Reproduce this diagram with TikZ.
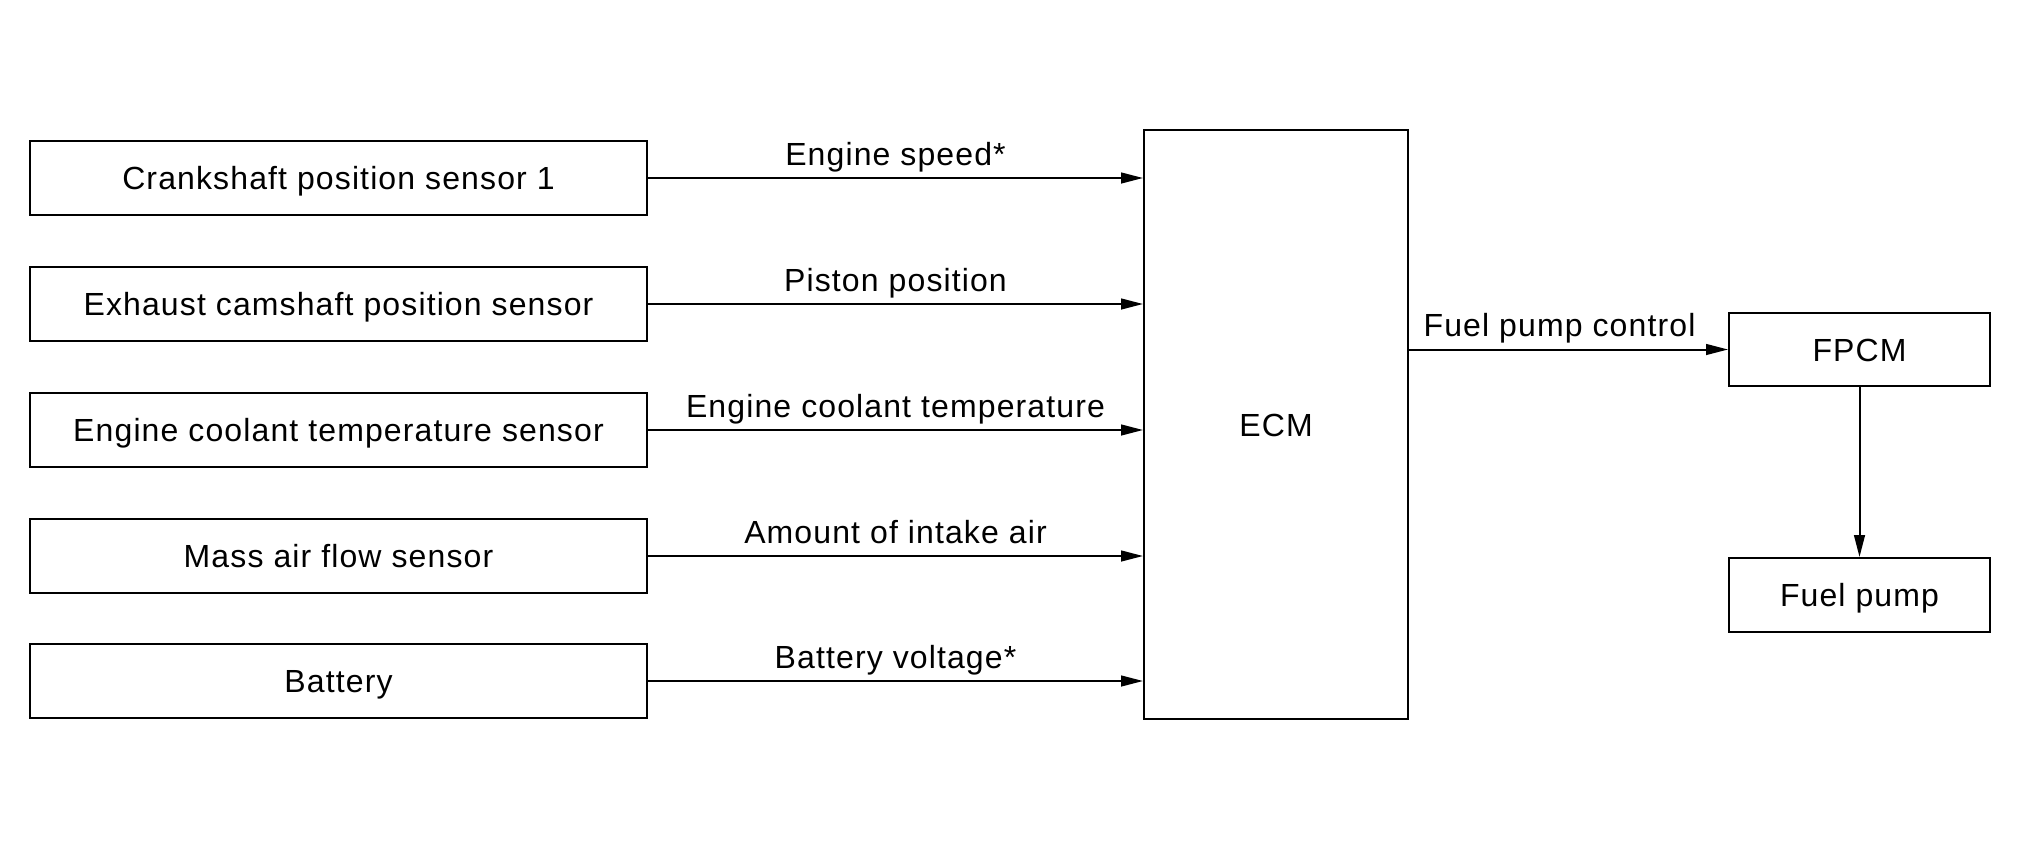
\documentclass[tikz,border=0pt]{standalone}
\usepackage{fontspec}
\setmainfont[LetterSpace=3.5]{Liberation Sans}
\usetikzlibrary{arrows.meta}
\begin{document}
\begin{tikzpicture}[x=0.5pt,y=-0.5pt,
  txt/.style={font=\fontsize{16}{19}\selectfont},
  box/.style={draw, line width=1pt, inner sep=0pt, txt, text height=11.5pt, text depth=0pt},
  sensor/.style={box, minimum width=308.5pt, minimum height=37pt},
  arr/.style={line width=1pt, -{Triangle[length=11pt,width=5.4pt]}},
  lbl/.style={txt, anchor=base, inner sep=0pt}]
\useasboundingbox (0,0) rectangle (2020,851);
\node[sensor] (s1) at (338.5,178) {Crankshaft position sensor 1};
\node[sensor] (s2) at (338.5,304) {Exhaust camshaft position sensor};
\node[sensor] (s3) at (338.5,430) {Engine coolant temperature sensor};
\node[sensor] (s4) at (338.5,556) {Mass air flow sensor};
\node[sensor] (s5) at (338.5,681) {Battery};
\node[box, minimum width=132pt, minimum height=294.5pt] (ecm) at (1276,424.5) {ECM};
\node[box, minimum width=130.5pt, minimum height=36.5pt] (fpcm) at (1859.5,349.5) {FPCM};
\node[box, minimum width=130.5pt, minimum height=37pt] (pump) at (1859.5,595) {Fuel pump};
\draw[arr] (s1.east) -- (s1.east -| ecm.west) node[lbl, midway, yshift=6.4pt] {Engine speed*};
\draw[arr] (s2.east) -- (s2.east -| ecm.west) node[lbl, midway, yshift=6.4pt] {Piston position};
\draw[arr] (s3.east) -- (s3.east -| ecm.west) node[lbl, midway, yshift=6.4pt] {Engine coolant temperature};
\draw[arr] (s4.east) -- (s4.east -| ecm.west) node[lbl, midway, yshift=6.4pt] {Amount of intake air};
\draw[arr] (s5.east) -- (s5.east -| ecm.west) node[lbl, midway, yshift=6.4pt] {Battery voltage*};
\draw[arr] (fpcm.west -| ecm.east) -- (fpcm.west) node[lbl, midway, yshift=6.4pt, xshift=-4.5pt] {Fuel pump control};
\draw[arr] (fpcm.south) -- (pump.north);
\end{tikzpicture}
\end{document}
